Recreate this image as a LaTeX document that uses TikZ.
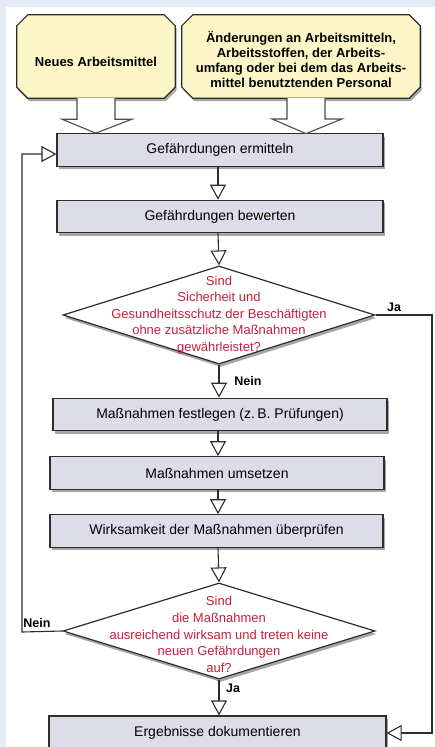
\documentclass[tikz,border=0pt]{standalone}
\usepackage{fontspec}
\setmainfont{Liberation Sans}
\usetikzlibrary{arrows.meta,shapes.geometric,shadows,calc}
\definecolor{bgblue}{RGB}{228,234,246}
\definecolor{yfill}{RGB}{252,246,198}
\definecolor{bfill}{RGB}{221,221,234}
\definecolor{qred}{RGB}{196,32,60}
\definecolor{edge}{RGB}{45,45,45}
\tikzset{
  shad/.style={drop shadow={shadow xshift=1.5pt,shadow yshift=-3pt,opacity=.35,fill=black}},
  yarea/.style={rectangle,inner sep=0pt,align=center,font=\bfseries\fontsize{13}{15}\selectfont},
  oct/.style={draw=edge,line width=1.2pt,fill=yfill,shad,line join=miter},
  stepbox/.style={rectangle,draw=edge,line width=1.2pt,fill=bfill,shad,inner sep=0pt,
    minimum height=32.5pt,font=\fontsize{14}{16}\selectfont},
  dia/.style={diamond,draw=edge,line width=1.2pt,fill=white,shad,inner sep=0pt,minimum width=312pt},
  qtext/.style={align=center,text=qred,font=\fontsize{13}{16.6}\selectfont},
  lab/.style={font=\bfseries\fontsize{12.5}{14}\selectfont},
  arr/.style={draw=edge,line width=1.1pt,-{Triangle[length=15pt,width=16pt,fill=white,line width=1.1pt]}},
  bigarr/.style={draw=edge!85,line width=1.1pt,fill=white,line join=miter},
}
\newcommand\octpath[2]{% #1 node name, #2 chamfer
  ($(#1.north west)+(#2,0)$) -- ($(#1.north east)+(-#2,0)$) -- ($(#1.north east)+(0,#2)$)
  -- ($(#1.south east)+(0,-#2)$) -- ($(#1.south east)+(-#2,0)$) -- ($(#1.south west)+(#2,0)$)
  -- ($(#1.south west)+(0,-#2)$) -- ($(#1.north west)+(0,#2)$) -- cycle}
\begin{document}
\begin{tikzpicture}[x=1pt,y=-1pt]
\useasboundingbox (0,0) rectangle (435,747);
\fill[bgblue] (0,0) rectangle (435,747);
\fill[white] (6,7) rectangle (435,747);

% yellow start boxes
\node[yarea,minimum width=158pt,minimum height=83pt] (y1) at (96,56.5) {};
\node[yarea,minimum width=238pt,minimum height=83pt] (y2) at (301,56.5) {};
\path[oct] \octpath{y1}{11};
\path[oct] \octpath{y2}{11};
\node[yarea] (y1t) at (96,62) {Neues Arbeitsmittel};
\node[yarea] (y2t) at (301,60)
  {Änderungen an Arbeitsmitteln,\\Arbeitsstoffen, der Arbeits-\\umfang oder bei dem das Arbeits-\\mittel benutztenden Personal};

% process boxes
\node[stepbox,minimum width=326pt] (b1) at (220,150) {Gefährdungen ermitteln};
\node[stepbox,minimum width=326pt] (b2) at (220,216.5) {Gefährdungen bewerten};
\node[dia,minimum height=98pt] (d1) at (219,315) {};
\node[qtext] (d1t) at (219,315) {Sind\\Sicherheit und\\Gesundheitsschutz der Beschäftigten\\ohne zusätzliche Maßnahmen\\gewährleistet?};
\node[stepbox,minimum width=334pt] (b3) at (220,414.5) {Maßnahmen festlegen (z.\,B. Prüfungen)};
\node[stepbox,minimum width=334pt] (b4) at (217,473) {Maßnahmen umsetzen};
\node[stepbox,minimum width=333pt] (b5) at (216.5,531) {Wirksamkeit der Maßnahmen überprüfen};
\node[dia,minimum height=96pt] (d2) at (219,631) {};
\node[qtext] (d2t) at (219,634.5) {Sind\\die Maßnahmen\\ausreichend wirksam und treten keine\\neuen Gefährdungen\\auf?};
\node[stepbox,minimum width=337pt,minimum height=34pt] (b6) at (217.5,733) {Ergebnisse dokumentieren};

% big hollow arrows from the yellow boxes
\draw[bigarr] ($(y1.south)+(-19,0)$) -- ++(0,21) -- ++(-15,0) -- ($(b1.north west)!0.12!(b1.north east)$)
  -- ($(y1.south)+(36,21)$) -- ($(y1.south)+(19,21)$) -- ($(y1.south)+(19,0)$);
\coordinate (r2) at (306,98);
\draw[bigarr] ($(r2)+(-19,0)$) -- ++(0,21) -- ++(-15,0) -- (306,133.6)
  -- ($(r2)+(36,21)$) -- ($(r2)+(19,21)$) -- ($(r2)+(19,0)$);

% flow arrows
\draw[arr] (b1.south -| 218,0) -- (b2.north -| 218,0);
\draw[arr] (b2.south -| 218,0) -- (d1.north);
\draw[arr] (d1.south) -- (b3.north -| d1.south);
\draw[arr] (b3.south -| 218,0) -- (b4.north -| 218,0);
\draw[arr] (b4.south -| 218,0) -- (b5.north -| 218,0);
\draw[arr] (b5.south -| 218,0) -- (d2.north);
\draw[arr] (d2.south) -- (b6.north -| d2.south);

% Ja branch (right)
\coordinate (jr) at (432,315);
\draw[arr] (d1.east) -- (jr) |- (b6.east);
% Nein branch (left)
\coordinate (nl) at (22,632);
\draw[arr] (d2.west) -- (nl) |- ($(b1.west)+(0,4)$);

% labels
\node[lab] (lja1) at (394,307) {Ja};
\node[lab] (lnein1) at (248,381) {Nein};
\node[lab] (lnein2) at (37,623) {Nein};
\node[lab] (lja2) at (233,688) {Ja};
\end{tikzpicture}
\end{document}
